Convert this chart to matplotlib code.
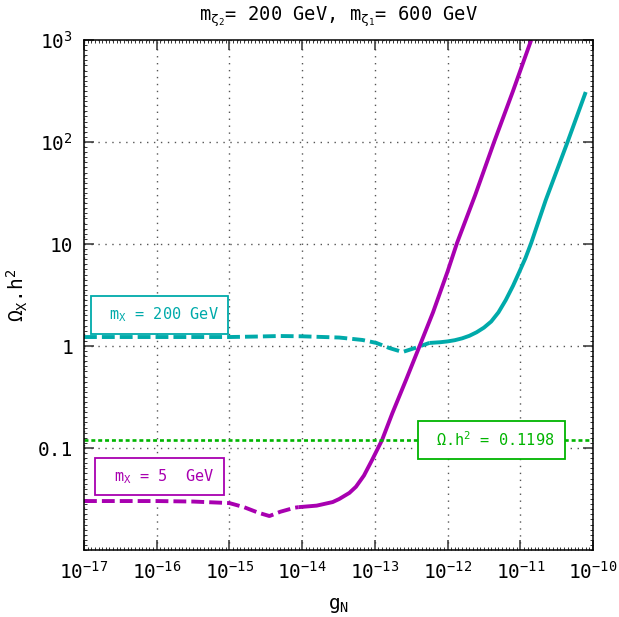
import matplotlib
matplotlib.use("Agg")
import matplotlib.pyplot as plt
import matplotlib.ticker as mticker
import numpy as np

plt.rcParams["font.family"] = ["DejaVu Sans Mono", "DejaVu Sans"]
plt.rcParams["mathtext.fontset"] = "custom"
plt.rcParams["mathtext.rm"] = "DejaVu Sans Mono"
plt.rcParams["mathtext.it"] = "DejaVu Sans Mono"
plt.rcParams["mathtext.bf"] = "DejaVu Sans Mono:bold"

# values, as log10 exponents
mag_dash_lx = [-17.0, -16.0, -15.5, -15.0, -14.8, -14.6, -14.45, -14.3, -14.1, -14.05]
mag_dash_ly = [-1.52, -1.52, -1.525, -1.54, -1.58, -1.635, -1.667, -1.625, -1.585, -1.58]
mag_solid_lx = [-14.05, -13.8, -13.58, -13.49, -13.35, -13.26, -13.15, -13.04, -12.90,
                -12.76, -12.57, -12.39, -12.2, -12.0, -11.87, -11.62, -11.36, -11.1, -10.85]
mag_solid_ly = [-1.58, -1.565, -1.53, -1.50, -1.44, -1.38, -1.27, -1.12, -0.92,
                -0.66, -0.33, -0.01, 0.33, 0.73, 1.01, 1.48, 2.0, 2.5, 3.0]

cy_dash_lx = [-17.0, -16.0, -15.0, -14.6, -14.31, -14.0, -13.49, -13.17, -12.98,
              -12.8, -12.62, -12.45, -12.25]
cy_dash_ly = [0.088, 0.088, 0.088, 0.093, 0.098, 0.095, 0.083, 0.059, 0.03,
              -0.02, -0.059, -0.02, 0.03]
cy_solid_lx = [-12.25, -12.1, -12.0, -11.9, -11.8, -11.70, -11.6, -11.5, -11.4, -11.30,
               -11.20, -11.1, -11.02, -10.93, -10.85, -10.65, -10.35, -10.10]
cy_solid_ly = [0.03, 0.037, 0.045, 0.057, 0.075, 0.10, 0.135, 0.18, 0.24, 0.33,
               0.45, 0.59, 0.716, 0.86, 1.01, 1.43, 2.0, 2.49]

omega_planck = 0.1198

xtick_exp = [-17, -16, -15, -14, -13, -12, -11, -10]
yticks = [0.1, 1, 10, 100, 1000]
ytick_labels = ["0.1", "1", "10", "$10^{2}$", "$10^{3}$"]

MAG = "#a800b0"
CYAN = "#00aaaa"
GREEN = "#00b400"


def pw(a):
    return 10.0 ** np.array(a)


fig = plt.figure(figsize=(6.19, 6.17), dpi=100)
ax = fig.add_axes([84 / 619, 1 - 550 / 617, 509 / 619, 510 / 617])

ax.set_xscale("log")
ax.set_yscale("log")
ax.set_xlim(1e-17, 1e-10)
ax.set_ylim(1e-2, 1e3)

lw = 2.8
ax.plot(pw(cy_dash_lx), pw(cy_dash_ly), color=CYAN, lw=lw, dashes=(3.3, 1.3))
ax.plot(pw(cy_solid_lx), pw(cy_solid_ly), color=CYAN, lw=lw, solid_capstyle="butt")
ax.plot(pw(mag_dash_lx), pw(mag_dash_ly), color=MAG, lw=lw, dashes=(3.3, 1.3))
ax.plot(pw(mag_solid_lx), pw(mag_solid_ly), color=MAG, lw=lw, solid_capstyle="butt")
ax.axhline(omega_planck, color=GREEN, lw=1.9, dashes=(1.5, 1.1))

# ticks
ax.xaxis.set_major_locator(mticker.FixedLocator(pw(xtick_exp)))
ax.xaxis.set_major_formatter(mticker.LogFormatterMathtext())
ax.xaxis.set_minor_locator(mticker.FixedLocator(pw(np.arange(-17, -10, 0.05))))
ax.xaxis.set_minor_formatter(mticker.NullFormatter())
ax.set_yticks(yticks)
ax.set_yticklabels(ytick_labels)
ax.yaxis.set_minor_locator(mticker.FixedLocator(pw(np.arange(-2, 3, 0.05))))
ax.yaxis.set_minor_formatter(mticker.NullFormatter())
ax.tick_params(which="both", direction="in", top=True, right=True, labelsize=14, color="#333333")
ax.tick_params(which="major", length=7, width=1.1, pad=8)
ax.tick_params(which="minor", length=2.5, width=0.7)

ax.grid(True, which="major", color="#555555", lw=1.0, linestyle=(0, (1, 4)))
for s in ax.spines.values():
    s.set_linewidth(1.1)

ax.set_title("m$_{\\zeta_2}$= 200 GeV, m$_{\\zeta_1}$= 600 GeV", fontsize=13.5, pad=14)
ax.set_xlabel("g$_\\mathrm{N}$", fontsize=14)
ax.set_ylabel("\u03a9$_\\mathrm{X}$.h$^2$", fontsize=14)
ax.xaxis.set_label_coords(0.5, -0.09)
ax.yaxis.set_label_coords(-0.106, 0.5)

box = dict(boxstyle="square,pad=0.6", fc="white", lw=1.3)
ax.text(pw(-15.96), pw(0.304), " m$_\\mathrm{X}$ = 200 GeV ", color=CYAN, fontsize=11,
        ha="center", va="center", bbox=dict(box, ec=CYAN))
ax.text(pw(-15.96), pw(-1.284), " m$_\\mathrm{X}$ = 5  GeV ", color=MAG, fontsize=11,
        ha="center", va="center", bbox=dict(box, ec=MAG))
ax.text(pw(-11.40), omega_planck, " \u03a9.h$^2$ = 0.1198 ", color=GREEN, fontsize=11,
        ha="center", va="center", bbox=dict(box, ec=GREEN))

fig.savefig("out.png", dpi=100)
